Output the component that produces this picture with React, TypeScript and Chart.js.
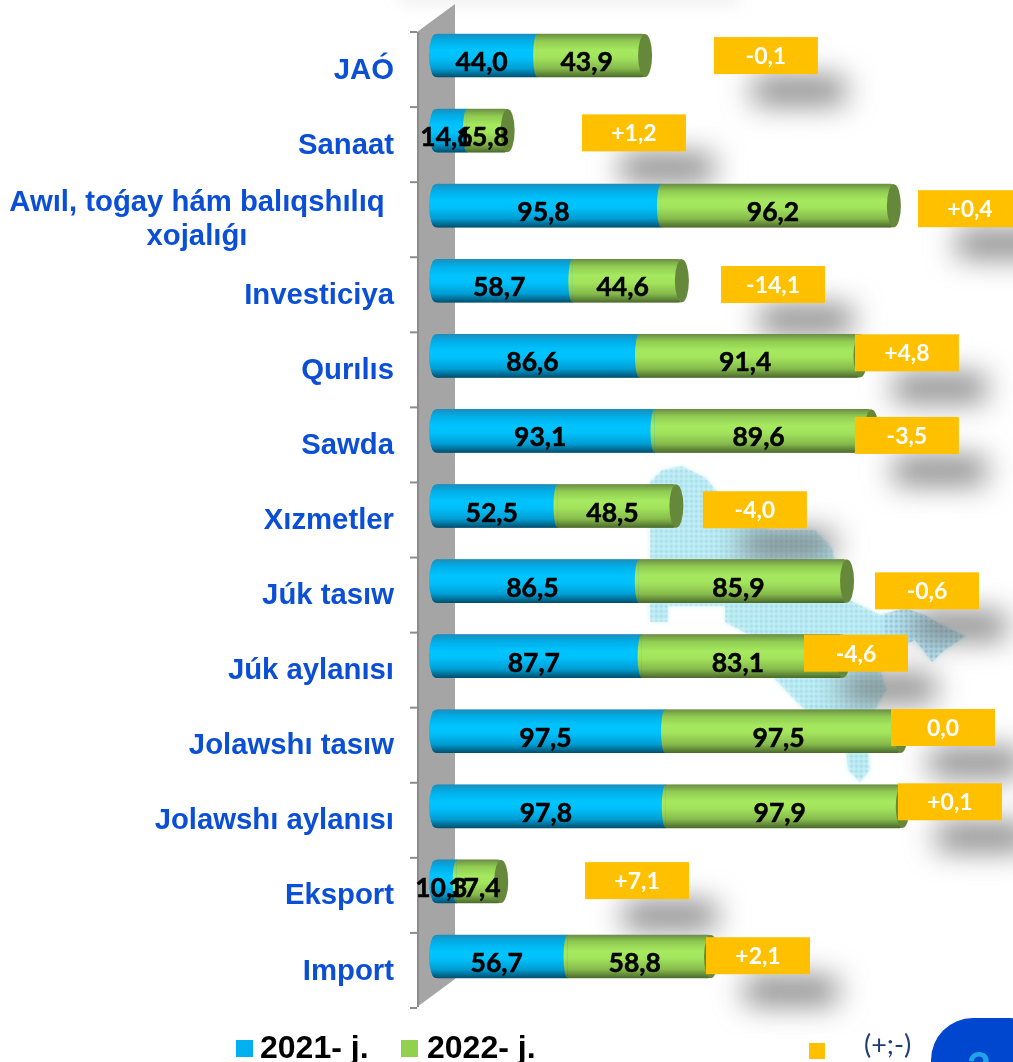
import React, { useEffect, useRef } from "react";
import { Chart, registerables } from "chart.js";

Chart.register(...registerables);

const categories = [
  "JAÓ", "Sanaat", "Awıl, toǵay hám balıqshılıq|xojalıǵı", "Investiciya", "Qurılıs", "Sawda",
  "Xızmetler", "Júk tasıw", "Júk aylanısı", "Jolawshı tasıw", "Jolawshı aylanısı", "Eksport", "Import",
];
const series2021 = [44.0, 14.6, 95.8, 58.7, 86.6, 93.1, 52.5, 86.5, 87.7, 97.5, 97.8, 10.3, 56.7];
const series2022 = [43.9, 15.8, 96.2, 44.6, 91.4, 89.6, 48.5, 85.9, 83.1, 97.5, 97.9, 17.4, 58.8];
const deltaLabels = ["-0,1", "+1,2", "+0,4", "-14,1", "+4,8", "-3,5", "-4,0", "-0,6", "-4,6", "0,0", "+0,1", "+7,1", "+2,1"];
// where each (+;-) tag sits, in axis units
const deltaAnchorX = [139.7, 84.5, 225.1, 142.7, 198.7, 198.7, 135.1, 207.1, 177.4, 213.8, 216.7, 85.8, 136.4];
const deltaAnchorY = [0, 0.03, 0.04, 0.05, -0.04, 0.06, 0.05, 0.13, -0.04, -0.05, -0.06, -0.01, -0.01];
const legendLabels = ["2021- j.", "2022- j.", "(+;-)"];

const mapOutline: number[][] = [
  [650, 482], [662, 470], [682, 466], [706, 478], [722, 498], [745, 522], [772, 530], [815, 530], [832, 548],
  [836, 565], [850, 600], [880, 615], [905, 608], [925, 615], [942, 625], [966, 636], [945, 650], [932, 662],
  [915, 640], [895, 650], [880, 668], [886, 690], [874, 712], [868, 740], [870, 770], [860, 782], [848, 770],
  [845, 735], [810, 715], [790, 695], [762, 665], [758, 640], [725, 622], [725, 606], [668, 606], [668, 622],
  [650, 622], [650, 482],
];

const BAR_H = 43;
const ARIAL = '"Liberation Sans", Arial, sans-serif';
const CAL = 'Lato, Carlito, sans-serif';

const STOPS = [0, 0.16, 0.38, 0.55, 0.8, 1];
const BLUE = ["#1b8fbd", "#00aee8", "#00c4ff", "#00c0fa", "#009ed4", "#00506f"];
const GREEN = ["#6d8f45", "#8fcb52", "#a6e95f", "#a2e35c", "#86bb4c", "#4c6c2c"];

function grad(ctx: CanvasRenderingContext2D, y: number, colors: string[]) {
  const g = ctx.createLinearGradient(0, y - BAR_H / 2, 0, y + BAR_H / 2);
  STOPS.forEach((s, i) => g.addColorStop(s, colors[i]));
  return g;
}

function barFill(c: any, colors: string[]) {
  const py = c.dataIndex === undefined ? NaN : c.chart.scales.y?.getPixelForValue(c.dataIndex);
  return Number.isFinite(py) ? grad(c.chart.ctx, py, colors) : colors[2];
}

const decor = {
  id: "decor",
  beforeDatasetsDraw(chart: any) {
    const { ctx, chartArea: a, scales } = chart;
    const y = scales.y;
    const x = scales.x;
    ctx.save();
    // faint top glow
    ctx.filter = "blur(8px)";
    ctx.fillStyle = "rgba(120,120,120,0.12)";
    ctx.fillRect(400, -12, 340, 16);
    ctx.filter = "none";
    // dotted map
    ctx.save();
    ctx.filter = "blur(2px)";
    ctx.beginPath();
    mapOutline.forEach((p, i) => (i ? ctx.lineTo(p[0], p[1]) : ctx.moveTo(p[0], p[1])));
    ctx.closePath();
    ctx.fillStyle = "rgba(160,236,245,0.6)";
    ctx.fill();
    ctx.restore();
    ctx.save();
    ctx.beginPath();
    mapOutline.forEach((p, i) => (i ? ctx.lineTo(p[0], p[1]) : ctx.moveTo(p[0], p[1])));
    ctx.closePath();
    ctx.clip();
    ctx.filter = "blur(0.8px)";
    for (let px = 650; px < 970; px += 5) {
      for (let py = 465; py < 785; py += 5) {
        ctx.fillStyle = px > 880 ? "rgba(40,90,160,0.6)" : "rgba(55,130,175,0.42)";
        ctx.fillRect(px, py, 2.5, 2.5);
      }
    }
    ctx.restore();
    // blurred shadows under the tags
    ctx.filter = "blur(15px)";
    ctx.fillStyle = "rgba(100,100,100,0.85)";
    deltaLabels.forEach((_, i) => {
      const cx = x.getPixelForValue(deltaAnchorX[i]) + 33;
      const cy = y.getPixelForValue(i + deltaAnchorY[i]) + 35;
      ctx.fillRect(cx - 46, cy - 13, 92, 26);
    });
    ctx.filter = "none";
    // 3D wall
    const left = a.left - 15;
    const back = a.left + 23;
    const top = a.top + 14;
    const bottom = a.bottom + 13;
    ctx.beginPath();
    ctx.moveTo(left, top);
    ctx.lineTo(back, top - 28);
    ctx.lineTo(back, bottom - 28);
    ctx.lineTo(left, bottom);
    ctx.closePath();
    ctx.fillStyle = "#a5a5a5";
    ctx.fill();
    ctx.fillStyle = "#8c8c8c";
    ctx.fillRect(left, top, 2, bottom - top);
    // ticks
    ctx.fillStyle = "#8c8c8c";
    for (let i = 0; i <= categories.length; i++) {
      const ty = y.getPixelForValue(i - 0.5) + 14;
      ctx.fillRect(left - 7, ty - 1, 7, 2);
    }
    ctx.restore();
  },
  afterDatasetsDraw(chart: any) {
    const { ctx, scales } = chart;
    const y = scales.y;
    const x = scales.x;
    ctx.save();
    categories.forEach((name, i) => {
      const cy = y.getPixelForValue(i);
      const x0 = x.getPixelForValue(0);
      const x1 = x.getPixelForValue(series2021[i]);
      const x2 = x.getPixelForValue(series2021[i] + series2022[i]);
      const ry = BAR_H / 2;
      const blue = grad(ctx, cy, BLUE);
      const green = grad(ctx, cy, GREEN);
      // cylinder body: rounded start, curved boundary, end cap
      ctx.fillStyle = blue;
      ctx.beginPath();
      ctx.ellipse(x0 + 4, cy, 7, ry, 0, Math.PI / 2, (3 * Math.PI) / 2);
      ctx.fill();
      ctx.fillRect(x0 + 4, cy - ry, x1 - x0 - 4, BAR_H);
      ctx.fillStyle = green;
      ctx.beginPath();
      ctx.ellipse(x1, cy, 4, ry, 0, Math.PI / 2, (3 * Math.PI) / 2);
      ctx.fill();
      ctx.fillRect(x1, cy - ry, x2 + 3 - x1, BAR_H);
      ctx.fillStyle = "#66883a";
      ctx.beginPath();
      ctx.ellipse(x2 + 3, cy, 7, ry, 0, 0, Math.PI * 2);
      ctx.fill();
      // category label
      ctx.fillStyle = "#0b4fd6";
      ctx.font = `bold 29.3px ${ARIAL}`;
      const lines = name.split("|");
      if (lines.length > 1) {
        ctx.textAlign = "center";
        ctx.textBaseline = "middle";
        lines.forEach((l, k) => ctx.fillText(l, 197, cy - 3 + k * 34));
      } else {
        ctx.textAlign = "right";
        ctx.textBaseline = "middle";
        ctx.fillText(name, 394, cy + 15);
      }
    });
    // value labels
    ctx.fillStyle = "#000";
    ctx.strokeStyle = "#000";
    ctx.lineWidth = 0.5;
    ctx.font = `bold 26.5px ${CAL}`;
    ctx.textAlign = "center";
    ctx.textBaseline = "middle";
    categories.forEach((_, i) => {
      const cy = y.getPixelForValue(i) + 7;
      const x0 = x.getPixelForValue(0);
      const x1 = x.getPixelForValue(series2021[i]);
      const x2 = x.getPixelForValue(series2021[i] + series2022[i]);
      const a = series2021[i].toFixed(1).replace(".", ",");
      const b = series2022[i].toFixed(1).replace(".", ",");
      ctx.fillText(a, (x0 + x1) / 2 - 3, cy);
      ctx.strokeText(a, (x0 + x1) / 2 - 3, cy);
      ctx.fillText(b, (x1 + x2) / 2 - 3, cy);
      ctx.strokeText(b, (x1 + x2) / 2 - 3, cy);
    });
    // delta tags
    deltaLabels.forEach((t, i) => {
      const cx = x.getPixelForValue(deltaAnchorX[i]);
      const cy = y.getPixelForValue(i + deltaAnchorY[i]);
      ctx.fillStyle = "#ffc000";
      ctx.fillRect(cx - 52, cy - 18.5, 104, 37);
      ctx.fillStyle = "#fff";
      ctx.font = `bold 23px ${CAL}`;
      ctx.fillText(t, cx, cy + 1);
    });
    // legend
    ctx.textBaseline = "middle";
    ctx.textAlign = "left";
    ctx.fillStyle = "#00b0f0";
    ctx.fillRect(236, 1040, 17, 17);
    ctx.fillStyle = "#92d050";
    ctx.fillRect(401, 1040, 17, 17);
    ctx.fillStyle = "#ffc000";
    ctx.fillRect(809, 1043, 16, 16);
    ctx.fillStyle = "#000";
    ctx.font = `bold 32px ${ARIAL}`;
    ctx.fillText(legendLabels[0], 260, 1049);
    ctx.fillText(legendLabels[1], 427, 1049);
    ctx.fillStyle = "#1f3c78";
    ctx.font = `27px ${CAL}`;
    ctx.fillText(legendLabels[2], 864, 1045);
    // page badge
    ctx.fillStyle = "#0047d0";
    ctx.beginPath();
    ctx.roundRect(931, 1018, 120, 90, 42);
    ctx.fill();
    ctx.fillStyle = "#1fa5e6";
    ctx.font = `bold 42px ${CAL}`;
    ctx.textAlign = "center";
    ctx.fillText("2", 979, 1069);
    ctx.restore();
  },
};

export default function App() {
  const ref = useRef<HTMLCanvasElement>(null);
  useEffect(() => {
    const chart = new Chart(ref.current!, {
      type: "bar",
      data: {
        labels: categories.map((c) => c.replace("|", " ")),
        datasets: [
          {
            label: legendLabels[0],
            data: series2021,
            backgroundColor: (c: any) => barFill(c, BLUE),
            borderRadius: { topLeft: 6, bottomLeft: 6, topRight: 0, bottomRight: 0 },
            borderSkipped: false,
            barThickness: BAR_H,
          },
          {
            label: legendLabels[1],
            data: series2022,
            backgroundColor: (c: any) => barFill(c, GREEN),
            barThickness: BAR_H,
          },
        ],
      },
      options: {
        indexAxis: "y",
        responsive: false,
        animation: false,
        layout: { padding: { left: 432, right: 7.4, top: 18, bottom: 68 } },
        plugins: { legend: { display: false }, tooltip: { enabled: false } },
        scales: {
          x: { min: 0, max: 240, stacked: true, display: false },
          y: { stacked: true, display: false },
        },
      },
      plugins: [decor],
    } as any);
    return () => chart.destroy();
  }, []);
  return (
    <div style={{ position: "absolute", left: 0, top: 0, width: 1013, height: 1062, overflow: "hidden", background: "#fff" }}>
      <canvas ref={ref} width={1013} height={1062} style={{ display: "block" }} />
    </div>
  );
}
